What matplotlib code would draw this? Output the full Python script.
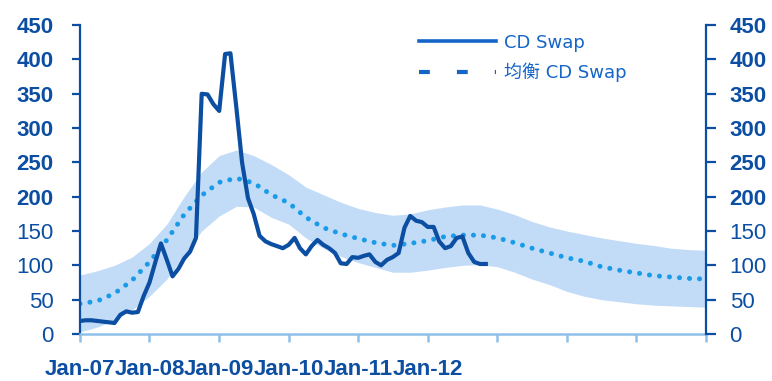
import numpy as np
import pandas as pd
import matplotlib
matplotlib.use("Agg")
import matplotlib.pyplot as plt
from matplotlib.lines import Line2D

# monthly CD swap spread, Jan-07 .. Nov-12
cds_values = [19, 20, 20, 19, 18, 17, 16, 28, 33, 31,
              32, 55, 75, 105, 132, 108, 84, 95, 110, 120,
              140, 350, 349, 335, 325, 408, 409, 330, 250, 198,
              175, 143, 135, 131, 128, 125, 130, 140, 125, 116,
              128, 137, 130, 125, 118, 103, 102, 112, 111, 114,
              116, 105, 100, 108, 112, 118, 155, 172, 165, 163,
              156, 156, 135, 125, 128, 140, 142, 118, 105, 102, 102]
cds_dates = pd.date_range("2007-01-01", periods=len(cds_values), freq="MS")

# quarterly equilibrium CD swap and its band, Jan-07 .. Jan-16
eq_values = [44, 48, 59, 78, 105, 137, 174, 202, 221, 227, 220, 203, 191,
             170, 155, 146, 139, 133, 129, 132, 136, 142, 144, 144, 140,
             133, 125, 118, 111, 106, 98, 93, 89, 85, 83, 81, 80]
band_upper = [86, 92, 100, 112, 132, 160, 200, 236, 260, 268, 260, 247, 232,
              214, 203, 192, 183, 177, 173, 175, 181, 185, 188, 188, 182,
              174, 164, 156, 150, 145, 140, 136, 132, 129, 125, 123, 122]
band_lower = [3, 10, 20, 35, 55, 80, 115, 150, 172, 186, 185, 170, 160,
              140, 125, 113, 104, 97, 90, 90, 93, 97, 100, 101, 98,
              90, 80, 72, 62, 55, 50, 47, 44, 42, 41, 40, 39]
eq_dates = pd.date_range("2007-01-01", periods=len(eq_values), freq="QS")

year_labels = ["Jan-07", "Jan-08", "Jan-09", "Jan-10", "Jan-11", "Jan-12",
               "", "", "", ""]
y_ticks = [0, 50, 100, 150, 200, 250, 300, 350, 400, 450]
legend_labels = ["CD Swap", "均衡 CD Swap"]

dark = "#0b4ea2"
bright = "#1a9be8"
band_col = "#c2dcf7"
axis_light = "#90c0ea"
legend_col = "#1565c8"

fig = plt.figure(figsize=(7.72, 3.81), dpi=100)
ax = fig.add_axes([0.1036, 0.1234, 0.8109, 0.8106])

# band, equilibrium (dotted) and actual series
ax.fill_between(eq_dates, band_lower, band_upper, color=band_col, lw=0, zorder=1)
ax.plot(eq_dates, eq_values, color=bright, lw=3.6, dashes=(0.01, 2.0),
        dash_capstyle="round", zorder=2)
ax.plot(cds_dates, cds_values, color=dark, lw=3.0, solid_joinstyle="round", zorder=3)

ax.set_xlim(pd.Timestamp("2007-01-01"), pd.Timestamp("2016-01-01"))
ax.set_ylim(0, 450)

tick_dates = pd.date_range("2007-01-01", "2016-01-01", freq="YS")
ax.set_xticks(tick_dates)
ax.set_xticklabels(year_labels)
ax.set_yticks(y_ticks)

for side in ["top", "right"]:
    ax.spines[side].set_visible(False)
ax.spines["left"].set_color(dark)
ax.spines["left"].set_linewidth(1.6)
ax.spines["bottom"].set_color(axis_light)
ax.spines["bottom"].set_linewidth(1.8)

lab_font = dict(family="Liberation Sans", size=16, weight="bold")
ax.tick_params(axis="x", direction="out", length=6, width=1.8, color=axis_light,
               pad=12, labelcolor=dark)
ax.tick_params(axis="y", direction="out", length=6, width=1.6, color=dark,
               pad=13, labelcolor=dark)
for t in ax.get_xticklabels():
    t.set_fontproperties(lab_font)

# right-hand axis with the same scale
ax2 = ax.twinx()
ax2.set_ylim(0, 450)
ax2.set_yticks(y_ticks)
for side in ["top", "left", "bottom"]:
    ax2.spines[side].set_visible(False)
ax2.spines["right"].set_color(dark)
ax2.spines["right"].set_linewidth(1.6)
ax2.tick_params(axis="y", direction="out", length=7, width=1.6, color=dark,
                pad=10, labelcolor=dark)

for axis in (ax, ax2):
    for t, v in zip(axis.get_yticklabels(), y_ticks):
        t.set_fontproperties(lab_font)
        t.set_fontweight("bold" if v >= 200 else "normal")

# legend
handles = [Line2D([], [], color=legend_col, lw=2.6),
           Line2D([], [], color=legend_col, lw=3.0, linestyle=(0, (2.6, 6.5)))]
leg = ax.legend(handles, legend_labels, loc="upper left",
                bbox_to_anchor=(0.515, 1.025), frameon=False, handlelength=4.3,
                handletextpad=0.45, labelspacing=0.6,
                prop={"family": ["DejaVu Sans", "Noto Sans CJK SC"], "size": 13})
for t in leg.get_texts():
    t.set_color(legend_col)

fig.savefig("out.png", dpi=100)
